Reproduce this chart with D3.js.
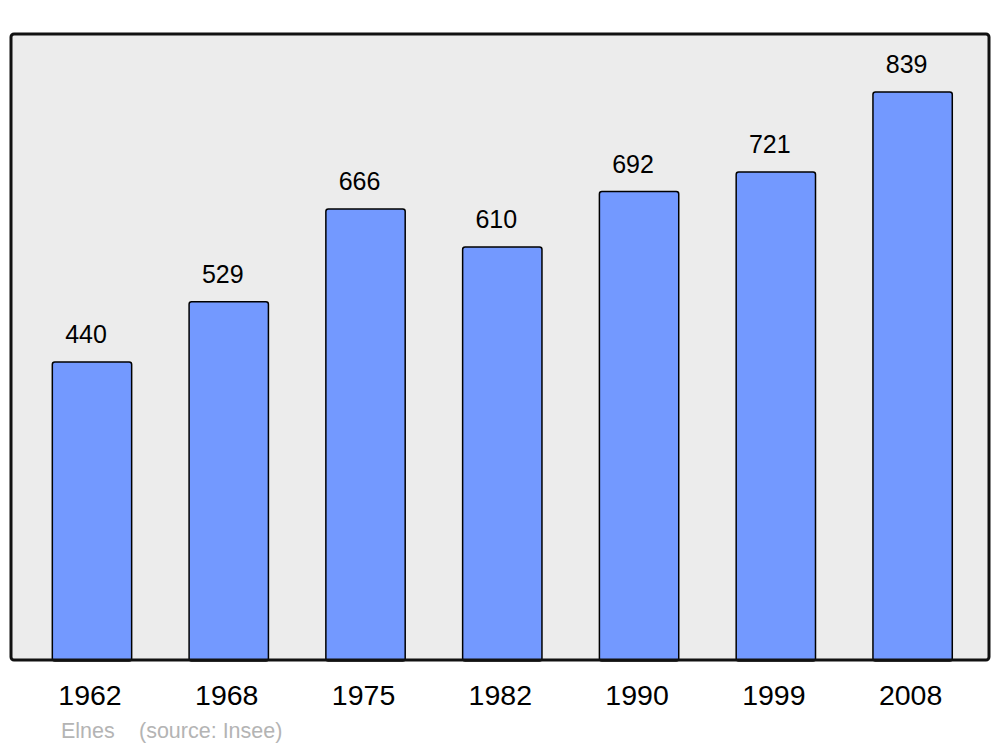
<!DOCTYPE html>
<html><head><meta charset="utf-8">
<script src="https://cdn.jsdelivr.net/npm/d3@7"></script>
<style>html,body{margin:0;padding:0;background:#fff;}</style>
</head><body>
<script>
const years = ["1962","1968","1975","1982","1990","1999","2008"];
const population = [440,529,666,610,692,721,839];
const townName = "Elnes";
const sourceText = "(source: Insee)";

const W = 1000, H = 747;
const FONT = "Liberation Sans, Arial, sans-serif";
const svg = d3.select("body").append("svg").attr("width", W).attr("height", H);
const frame = {x0: 11, y0: 34, x1: 989, y1: 660};

svg.append("rect").attr("x", frame.x0).attr("y", frame.y0)
  .attr("width", frame.x1 - frame.x0).attr("height", frame.y1 - frame.y0)
  .attr("rx", 3).attr("fill", "#ececec").attr("stroke", "none");

const x = d3.scaleBand().domain(years).range([23.6, 981]).paddingInner(0.42).paddingOuter(0.21);
const y = d3.scaleLinear().domain([0, d3.max(population)]).range([frame.y1, 92]);

const g = svg.append("g");
g.selectAll("rect.bar").data(years).join("rect").attr("class","bar")
  .attr("x", d => x(d)).attr("y", (d,i) => y(population[i]))
  .attr("width", x.bandwidth()).attr("height", (d,i) => y(0) - y(population[i]) + 1)
  .attr("rx", 2.5).attr("fill", "#7399ff").attr("stroke", "#000").attr("stroke-width", 1.5);

g.selectAll("text.val").data(years).join("text").attr("class","val")
  .attr("x", d => x(d) + x.bandwidth()/2 - 6).attr("y", (d,i) => y(population[i]) - 19)
  .attr("text-anchor","middle").attr("font-family", FONT)
  .attr("font-size", 25).attr("fill","#000").text((d,i) => population[i]);

svg.append("rect").attr("x", frame.x0).attr("y", frame.y0)
  .attr("width", frame.x1 - frame.x0).attr("height", frame.y1 - frame.y0)
  .attr("rx", 3).attr("fill", "none").attr("stroke", "#111").attr("stroke-width", 3);

const xAxis = d3.axisBottom(x).tickSize(0).tickPadding(0);
const ax = svg.append("g").attr("transform", `translate(-2, 705)`).call(xAxis);
ax.select(".domain").remove();
ax.selectAll("text").attr("font-family", FONT)
  .attr("font-size", 28.5).attr("fill","#000").attr("dy", "0").attr("y", 0);

svg.append("text").attr("x", 61).attr("y", 738).attr("font-family", FONT)
  .attr("font-size", 21.5).attr("fill","#b4b4b4").text(townName);
svg.append("text").attr("x", 139).attr("y", 738).attr("font-family", FONT)
  .attr("font-size", 21.5).attr("fill","#b4b4b4").text(sourceText);
</script>
</body></html>
